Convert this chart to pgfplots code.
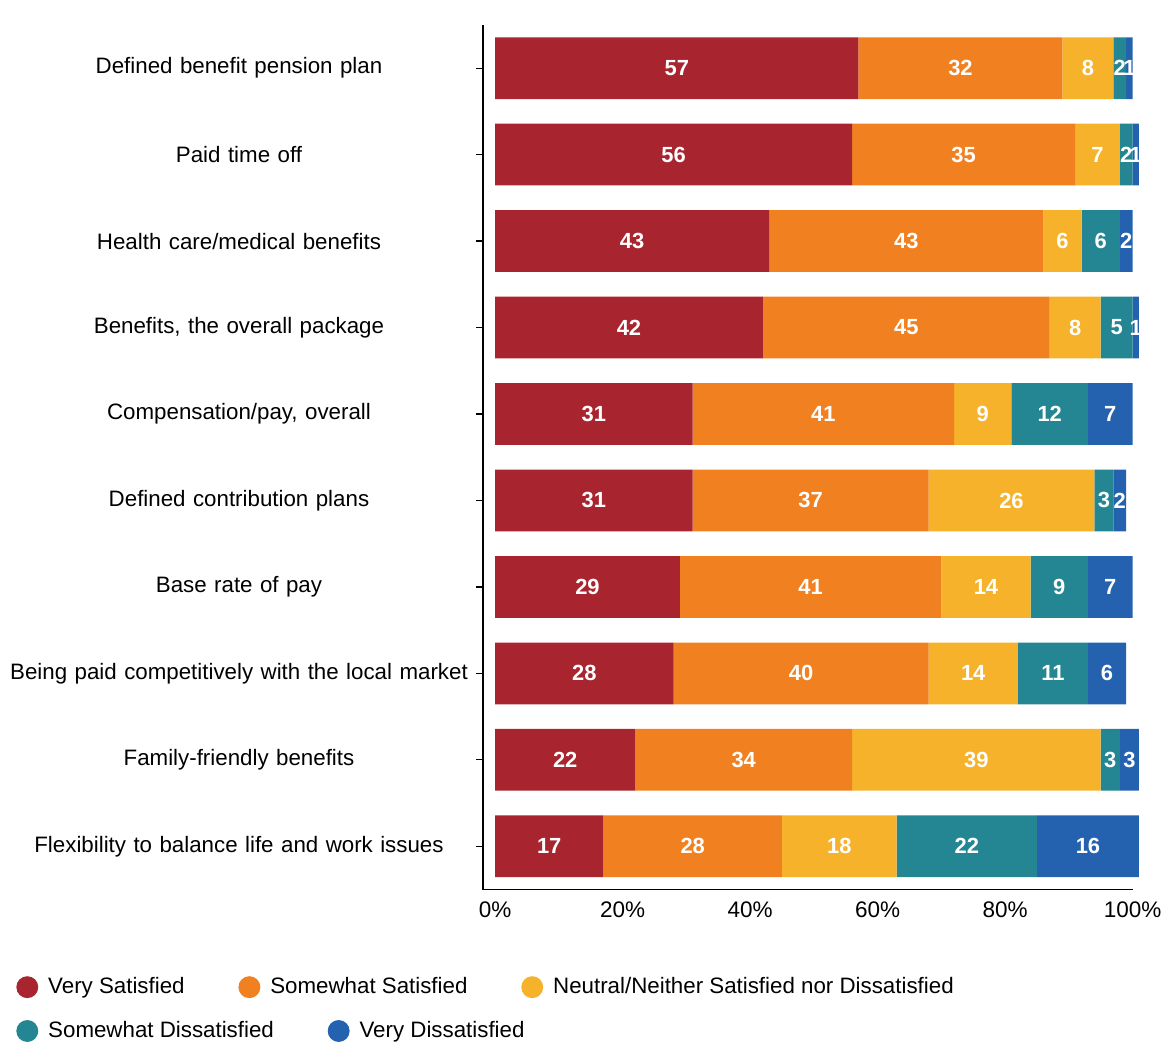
\documentclass[border=0pt]{standalone}
\usepackage{pgfplots}
\pgfplotsset{compat=1.18}
\usepackage{pgfplotstable}
\usepackage{fontspec}
\setmainfont{Liberation Sans}
\usetikzlibrary{calc}
\definecolor{vsat}{RGB}{168,36,46}
\definecolor{ssat}{RGB}{240,128,32}
\definecolor{neu}{RGB}{246,178,42}
\definecolor{sdis}{RGB}{36,134,146}
\definecolor{vdis}{RGB}{36,98,176}
\pgfplotstableread{
idx vs ss ne sd vd
0 57 32 8 2 1
1 56 35 7 2 1
2 43 43 6 6 2
3 42 45 8 5 1
4 31 41 9 12 7
5 31 37 26 3 2
6 29 41 14 9 7
7 28 40 14 11 6
8 22 34 39 3 3
9 17 28 18 22 16
}\datatable
\pgfplotsset{
  legstyle/.style={
    legend style={draw=none, fill=none, legend columns=-1, inner sep=0pt,
      font=\fontsize{11.2}{13}\selectfont,
      /tikz/every even column/.append style={column sep=25pt},
      /tikz/every odd column/.append style={column sep=3pt}},
    legend image code/.code={\fill[##1,draw=none] (5.5pt,0pt) circle (5.5pt);},
  }
}
\begin{document}
\begin{tikzpicture}
\begin{axis}[
  name=main,
  scale only axis, width=326pt, height=434pt,
  xbar stacked, bar width=31pt,
  clip=false,
  xmin=-1.875, xmax=100, ymin=-0.5, ymax=9.5, y dir=reverse,
  axis x line=bottom, axis y line=left,
  axis line style={-, line width=0.8pt},
  xtick={0,20,...,100},
  xticklabel={\pgfmathprintnumber{\tick}\%},
  /pgf/number format/assume math mode=true,
  x tick style={draw=none},
  ytick={0,...,9},
  yticklabels={Defined benefit pension plan, Paid time off, Health care/medical benefits, {Benefits, the overall package}, {Compensation/pay, overall}, Defined contribution plans, Base rate of pay, Being paid competitively with the local market, Family-friendly benefits, Flexibility to balance life and work issues},
  y tick style={black, line width=0.6pt},
  tick align=outside, major tick length=3.5pt,
  yticklabel style={text width=231pt, align=center, font=\fontsize{11.2}{13}\selectfont},
  xticklabel style={font=\fontsize{11.3}{13}\selectfont, yshift=1pt},
  nodes near coords,
  every node near coord/.append style={white, font=\bfseries\fontsize{11}{13}\selectfont},
  legstyle,
  legend style={at={(-0.7193,-0.1129)}, anchor=west},
]
\addplot[fill=vsat, draw=none] table[x=vs, y=idx]{\datatable};
\addplot[fill=ssat, draw=none] table[x=ss, y=idx]{\datatable};
\addplot[fill=neu, draw=none] table[x=ne, y=idx]{\datatable};
\addplot[fill=sdis, draw=none] table[x=sd, y=idx]{\datatable};
\addplot[fill=vdis, draw=none] table[x=vd, y=idx]{\datatable};
\legend{Very Satisfied, Somewhat Satisfied, Neutral/Neither Satisfied nor Dissatisfied}
\end{axis}
\begin{axis}[
  at={(main.south west)}, anchor=south west,
  scale only axis, width=326pt, height=434pt, hide axis,
  xmin=0, xmax=1, ymin=0, ymax=1,
  legstyle,
  legend style={at={(-0.7193,-0.1636)}, anchor=west},
]
\addlegendimage{fill=sdis, draw=none}
\addlegendimage{fill=vdis, draw=none}
\legend{Somewhat Dissatisfied, Very Dissatisfied}
\end{axis}
\path[use as bounding box] ($(main.north west)+(-242.5pt,12.5pt)$) rectangle ($(main.south west)+(341.5pt,-76pt)$);
\end{tikzpicture}
\end{document}
